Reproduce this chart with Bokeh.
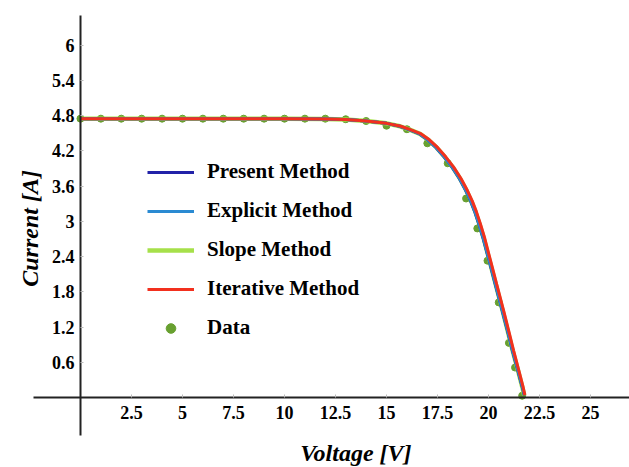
import math
from bokeh.plotting import figure
from bokeh.models import Range1d, FixedTicker, Legend, LegendItem, Label
from bokeh.embed import file_html
from bokeh.resources import INLINE

# ---- tick labels ----
x_ticks = [2.5, 5, 7.5, 10, 12.5, 15, 17.5, 20, 22.5, 25]
x_tick_labels = ["2.5", "5", "7.5", "10", "12.5", "15", "17.5", "20", "22.5", "25"]
y_ticks = [0.6, 1.2, 1.8, 2.4, 3.0, 3.6, 4.2, 4.8, 5.4, 6.0]
y_tick_labels = ["0.6", "1.2", "1.8", "2.4", "3", "3.6", "4.2", "4.8", "5.4", "6"]

# ---- measured data (Voltage [V], Current [A]) ----
data_v = [0, 1, 2, 3, 4, 5, 6, 7, 8, 9, 10, 11, 12, 13, 14, 15, 16, 17, 18,
          18.9, 19.45, 19.95, 20.5, 21.0, 21.3, 21.65]
data_i = [4.75, 4.75, 4.75, 4.75, 4.75, 4.75, 4.75, 4.75, 4.75, 4.75, 4.75,
          4.75, 4.75, 4.74, 4.71, 4.63, 4.57, 4.33, 3.99,
          3.39, 2.88, 2.33, 1.62, 0.93, 0.51, 0.03]

# ---- model curves (shared current samples, per-method voltages) ----
curve_i = [4.75, 4.75, 4.75, 4.75, 4.75, 4.75, 4.745, 4.735, 4.71, 4.67,
           4.62, 4.56, 4.49, 4.39, 4.26, 4.10, 3.92, 3.73, 3.53, 3.35, 3.17,
           2.96, 2.73, 2.33, 1.93, 1.48, 1.12, 0.80, 0.44, 0.17, 0.04]
present_v = [0, 2, 4, 6, 8, 10, 12, 13, 14, 15,
             15.65, 16.14, 16.62, 17.02, 17.42, 17.82, 18.22, 18.57, 18.88,
             19.12, 19.32, 19.52, 19.72, 20.03, 20.33, 20.67, 20.94, 21.17,
             21.45, 21.66, 21.75]
explicit_v = [0, 2, 4, 6, 8, 10, 12, 13, 14, 15,
              15.66, 16.15, 16.63, 17.03, 17.43, 17.83, 18.23, 18.58, 18.89,
              19.13, 19.33, 19.53, 19.73, 20.04, 20.34, 20.68, 20.95, 21.18,
              21.46, 21.67, 21.76]
slope_v = [0, 2, 4, 6, 8, 10, 12, 13, 14, 15,
           15.66, 16.16, 16.64, 17.05, 17.45, 17.85, 18.25, 18.6, 18.91,
           19.15, 19.35, 19.55, 19.75, 20.05, 20.35, 20.69, 20.95, 21.18,
           21.46, 21.66, 21.75]
iterative_v = [0, 2, 4, 6, 8, 10, 12, 13, 14, 15,
               15.7, 16.2, 16.7, 17.1, 17.5, 17.9, 18.3, 18.65, 18.96,
               19.2, 19.4, 19.6, 19.8, 20.1, 20.4, 20.74, 21.0, 21.23,
               21.5, 21.7, 21.78]

SERIF = "Liberation Serif"

p = figure(width=629, height=467, output_backend="svg", toolbar_location=None,
           x_range=Range1d(-3.92, 26.91), y_range=Range1d(-1.193, 6.763),
           min_border=0, min_border_left=0, min_border_right=0,
           min_border_top=0, min_border_bottom=0)
p.outline_line_color = None
p.xgrid.visible = False
p.ygrid.visible = False
p.background_fill_color = "white"
p.border_fill_color = "white"

for ax in (p.xaxis[0], p.yaxis[0]):
    ax.fixed_location = 0
    ax.axis_line_color = "#222222"
    ax.axis_line_width = 2
    ax.major_tick_in = 3
    ax.major_tick_out = 0
    ax.major_tick_line_color = "#bbbbbb"
    ax.minor_tick_line_color = None
    ax.major_label_text_font = SERIF
    ax.major_label_text_font_style = "bold"
    ax.major_label_text_font_size = "18px"
    ax.major_label_text_color = "black"

p.xaxis[0].ticker = FixedTicker(ticks=x_ticks)
p.xaxis[0].major_label_overrides = dict(zip(x_ticks, x_tick_labels))
p.xaxis[0].bounds = (-2.3, 26.91)
p.xaxis[0].major_label_standoff = 9
p.yaxis[0].ticker = FixedTicker(ticks=y_ticks)
p.yaxis[0].major_label_overrides = dict(zip(y_ticks, y_tick_labels))
p.yaxis[0].bounds = (-0.65, 6.5)
p.yaxis[0].major_label_standoff = 6

r_data = p.scatter(data_v, data_i, size=7, marker="circle",
                   fill_color="#68a030", line_color="#68a030")
r_slope = p.line(slope_v, curve_i, line_color="#a6e04a", line_width=4.5)
r_present = p.line(present_v, curve_i, line_color="#2222a8", line_width=3)
r_explicit = p.line(explicit_v, curve_i, line_color="#2a8ad2", line_width=3)
r_iter = p.line(iterative_v, curve_i, line_color="#f2301e", line_width=3)

legend = Legend(items=[
    LegendItem(label="Present Method", renderers=[r_present]),
    LegendItem(label="Explicit Method", renderers=[r_explicit]),
    LegendItem(label="Slope Method", renderers=[r_slope]),
    LegendItem(label="Iterative Method", renderers=[r_iter]),
    LegendItem(label="Data", renderers=[r_data]),
], location=(147, 127), orientation="vertical")
legend.background_fill_alpha = 0
legend.border_line_color = None
legend.padding = 0
legend.margin = 0
legend.spacing = 14
legend.glyph_width = 47
legend.glyph_height = 24
legend.label_height = 24
legend.label_standoff = 13
legend.label_text_font = SERIF
legend.label_text_font_style = "bold"
legend.label_text_font_size = "21px"
legend.label_text_color = "black"
p.add_layout(legend, "center")

p.add_layout(Label(x=13.5, y=-0.94, text="Voltage [V]", text_font=SERIF,
                   text_font_style="bold italic", text_font_size="24px",
                   text_align="center", text_baseline="middle", text_color="black"))
p.add_layout(Label(x=-2.45, y=2.88, text="Current [A]", text_font=SERIF,
                   text_font_style="bold italic", text_font_size="24px",
                   angle=math.pi / 2, text_align="center", text_baseline="middle",
                   text_color="black"))

open("out.html", "w").write(file_html(p, INLINE))
